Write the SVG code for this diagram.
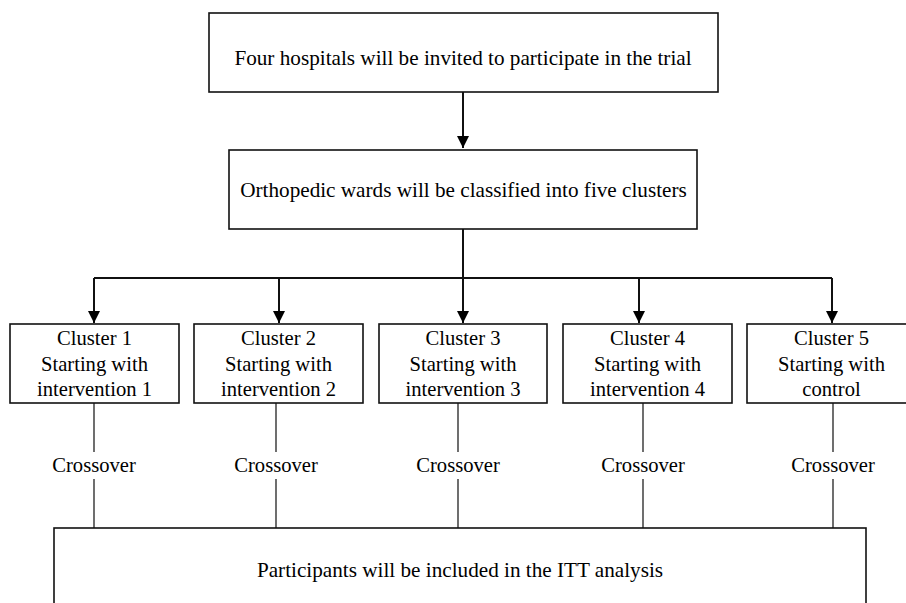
<svg xmlns="http://www.w3.org/2000/svg" width="906" height="603" viewBox="0 0 906 603">
<defs>
<style>
.box{fill:#fff;stroke:#111;stroke-width:1.6}
.t{font-family:'Liberation Serif','DejaVu Serif',serif;font-size:20.6px;fill:#000;text-anchor:middle}
.big{font-size:21.2px}
.c{fill:none;stroke:#111;stroke-width:2}
.l{fill:none;stroke:#222;stroke-width:1.3}
</style>
<marker id="ah" markerUnits="userSpaceOnUse" markerWidth="13" markerHeight="13" viewBox="0 0 13 13" refX="12" refY="6.5" orient="auto">
<path d="M0,0.5 L12,6.5 L0,12.5 Z" fill="#000"/>
</marker>
</defs>
<rect width="906" height="603" fill="#fff"/>
<g id="connectors">
<path class="c" d="M463,92 V148" marker-end="url(#ah)"/>
<path class="c" d="M463,229 V278"/>
<path class="c" d="M94,278 H832"/>
<path class="c" d="M94,278 V323" marker-end="url(#ah)"/>
<path class="c" d="M279,278 V323" marker-end="url(#ah)"/>
<path class="c" d="M463,278 V323" marker-end="url(#ah)"/>
<path class="c" d="M639,278 V323" marker-end="url(#ah)"/>
<path class="c" d="M832,278 V323" marker-end="url(#ah)"/>
<path class="l" d="M94,403 V452 M94,479 V528"/>
<path class="l" d="M276,403 V452 M276,479 V528"/>
<path class="l" d="M458,403 V452 M458,479 V528"/>
<path class="l" d="M643,403 V452 M643,479 V528"/>
<path class="l" d="M833,403 V452 M833,479 V528"/>
</g>
<g id="n-hospitals">
<rect class="box" x="209" y="13" width="509" height="79"/>
<text class="t big" x="463" y="65">Four hospitals will be invited to participate in the trial</text>
</g>
<g id="n-wards">
<rect class="box" x="229" y="150" width="468" height="79"/>
<text class="t big" x="463.5" y="197">Orthopedic wards will be classified into five clusters</text>
</g>
<g id="n-cluster1">
<rect class="box" x="10" y="324" width="169" height="79"/>
<text class="t" x="94.5" y="345">Cluster 1</text>
<text class="t" x="94.5" y="371">Starting with</text>
<text class="t" x="94.5" y="396">intervention 1</text>
</g>
<g id="n-cluster2">
<rect class="box" x="194" y="324" width="169" height="79"/>
<text class="t" x="278.5" y="345">Cluster 2</text>
<text class="t" x="278.5" y="371">Starting with</text>
<text class="t" x="278.5" y="396">intervention 2</text>
</g>
<g id="n-cluster3">
<rect class="box" x="379" y="324" width="168" height="79"/>
<text class="t" x="463" y="345">Cluster 3</text>
<text class="t" x="463" y="371">Starting with</text>
<text class="t" x="463" y="396">intervention 3</text>
</g>
<g id="n-cluster4">
<rect class="box" x="563" y="324" width="169" height="79"/>
<text class="t" x="647.5" y="345">Cluster 4</text>
<text class="t" x="647.5" y="371">Starting with</text>
<text class="t" x="647.5" y="396">intervention 4</text>
</g>
<g id="n-cluster5">
<rect class="box" x="747" y="324" width="169" height="79"/>
<text class="t" x="831.5" y="345">Cluster 5</text>
<text class="t" x="831.5" y="371">Starting with</text>
<text class="t" x="831.5" y="396">control</text>
</g>
<g id="crossover-labels">
<text class="t" x="94" y="472">Crossover</text>
<text class="t" x="276" y="472">Crossover</text>
<text class="t" x="458" y="472">Crossover</text>
<text class="t" x="643" y="472">Crossover</text>
<text class="t" x="833" y="472">Crossover</text>
</g>
<g id="n-itt">
<rect class="box" x="54" y="528" width="812" height="90"/>
<text class="t big" x="460" y="577">Participants will be included in the ITT analysis</text>
</g>
</svg>
